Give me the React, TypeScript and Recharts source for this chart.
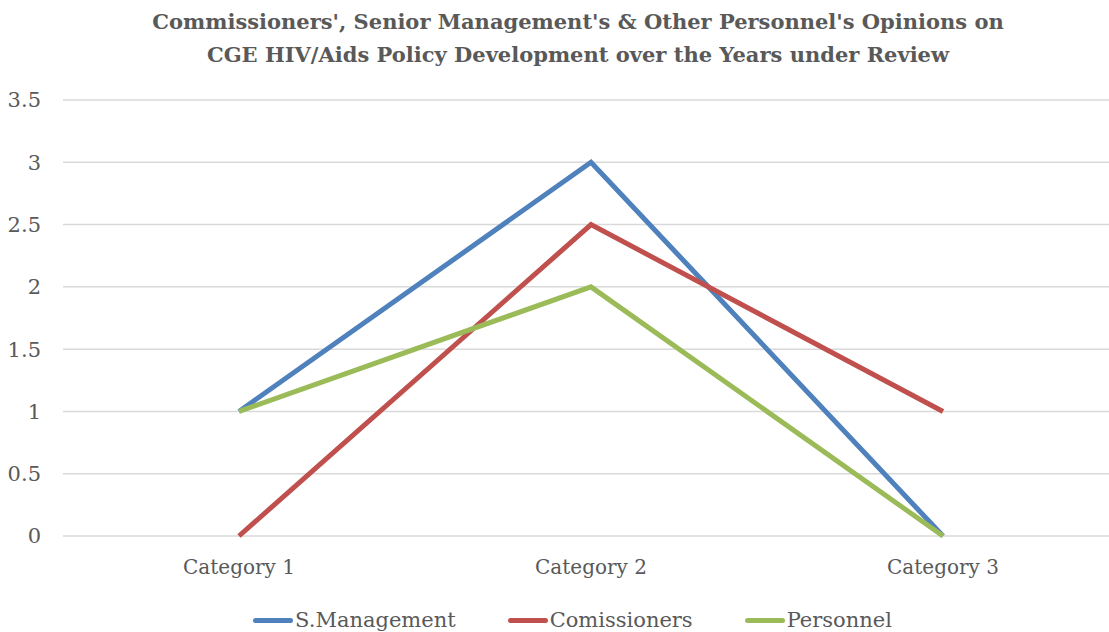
import { CartesianGrid, Legend, Line, LineChart, XAxis, YAxis } from "recharts";

const categories = ["Category 1", "Category 2", "Category 3"];
const sManagement = [1, 3, 0];
const commissioners = [0, 2.5, 1];
const personnel = [1, 2, 0];
const yTicks = [0, 0.5, 1, 1.5, 2, 2.5, 3, 3.5];

const series = [
  { key: "sManagement", name: "S.Management", color: "#4f81bd" },
  { key: "commissioners", name: "Comissioners", color: "#c0504d" },
  { key: "personnel", name: "Personnel", color: "#9bbb59" },
];

const data = categories.map((c, i) => ({
  category: c,
  sManagement: sManagement[i],
  commissioners: commissioners[i],
  personnel: personnel[i],
}));

const font = "'DejaVu Serif', serif";
const grey = "#595959";

function LegendRow() {
  return (
    <div
      style={{
        display: "flex",
        justifyContent: "center",
        gap: 52,
        height: 24,
        fontFamily: font,
        fontSize: 21,
        color: grey,
        paddingLeft: 36,
      }}
    >
      {series.map((s) => (
        <div key={s.key} style={{ display: "flex", alignItems: "center" }}>
          <span
            style={{
              display: "inline-block",
              width: 40,
              height: 5,
              borderRadius: 3,
              background: s.color,
              marginRight: 2,
            }}
          />
          {s.name}
        </div>
      ))}
    </div>
  );
}

export default function App() {
  return (
    <div
      style={{
        position: "fixed",
        left: 0,
        top: 0,
        width: 1109,
        height: 632,
        overflow: "hidden",
        background: "#fff",
      }}
    >
      <div
        style={{
          position: "absolute",
          top: 5,
          left: 0,
          width: 1156,
          textAlign: "center",
          fontFamily: font,
          fontWeight: "bold",
          fontSize: 21,
          lineHeight: "33px",
          color: grey,
        }}
      >
        Commissioners', Senior Management's &amp; Other Personnel's Opinions on
        <br />
        CGE HIV/Aids Policy Development over the Years under Review
      </div>
      <LineChart
        width={1130}
        height={632}
        data={data}
        margin={{ top: 100, right: 11, bottom: 12, left: 0 }}
      >
        <CartesianGrid vertical={false} stroke="#d9d9d9" strokeWidth={1.5} />
        <XAxis
          dataKey="category"
          axisLine={false}
          tickLine={false}
          padding={{ left: 176, right: 176 }}
          tick={{ fill: grey, fontSize: 20, fontFamily: font }}
          tickMargin={18}
          height={60}
        />
        <YAxis
          domain={[0, 3.5]}
          ticks={yTicks}
          axisLine={false}
          tickLine={false}
          width={63}
          tickMargin={16}
          tick={{ fill: grey, fontSize: 21, fontFamily: font }}
        />
        <Legend
          verticalAlign="bottom"
          wrapperStyle={{ left: 0, width: 1109, bottom: 0 }}
          content={() => <LegendRow />}
        />
        {series.map((s) => (
          <Line
            key={s.key}
            type="linear"
            dataKey={s.key}
            name={s.name}
            stroke={s.color}
            strokeWidth={5}
            dot={false}
            activeDot={false}
            isAnimationActive={false}
          />
        ))}
      </LineChart>
    </div>
  );
}
